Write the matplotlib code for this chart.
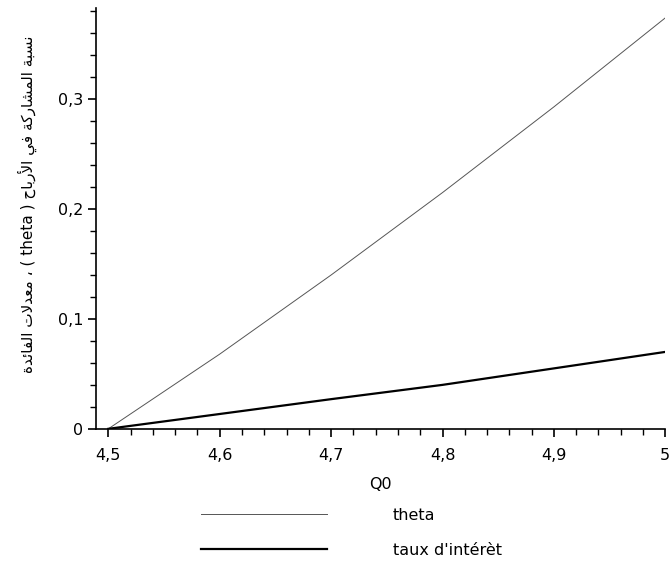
import matplotlib
matplotlib.use("Agg")
import matplotlib.pyplot as plt
from matplotlib.ticker import MultipleLocator, FuncFormatter

# data
q0 = [4.5, 4.6, 4.7, 4.8, 4.9, 5.0]
theta = [0.0, 0.068, 0.140, 0.215, 0.293, 0.374]
taux = [0.0, 0.0135, 0.027, 0.040, 0.055, 0.070]
series_labels = ["theta", "taux d'intérèt"]
ylabel_ar = "نسبة المشاركة في الأرباح ( theta ) ، معدلات الفائدة"

# arabic presentation forms: isolated, final, initial, medial
forms = {
    "ا": (0xFE8D, 0xFE8E, None, None),
    "أ": (0xFE83, 0xFE84, None, None),
    "ب": (0xFE8F, 0xFE90, 0xFE91, 0xFE92),
    "ة": (0xFE93, 0xFE94, None, None),
    "ت": (0xFE95, 0xFE96, 0xFE97, 0xFE98),
    "ح": (0xFEA1, 0xFEA2, 0xFEA3, 0xFEA4),
    "د": (0xFEA9, 0xFEAA, None, None),
    "ر": (0xFEAD, 0xFEAE, None, None),
    "س": (0xFEB1, 0xFEB2, 0xFEB3, 0xFEB4),
    "ش": (0xFEB5, 0xFEB6, 0xFEB7, 0xFEB8),
    "ع": (0xFEC9, 0xFECA, 0xFECB, 0xFECC),
    "ف": (0xFED1, 0xFED2, 0xFED3, 0xFED4),
    "ك": (0xFED9, 0xFEDA, 0xFEDB, 0xFEDC),
    "ل": (0xFEDD, 0xFEDE, 0xFEDF, 0xFEE0),
    "م": (0xFEE1, 0xFEE2, 0xFEE3, 0xFEE4),
    "ن": (0xFEE5, 0xFEE6, 0xFEE7, 0xFEE8),
    "ي": (0xFEF1, 0xFEF2, 0xFEF3, 0xFEF4),
    "ئ": (0xFE89, 0xFE8A, 0xFE8B, 0xFE8C),
}
lam_alef = {"ا": (0xFEFB, 0xFEFC), "أ": (0xFEF7, 0xFEF8)}


def shape_word(w):
    out = []
    i = 0
    prev_joins = False
    while i < len(w):
        c = w[i]
        if c not in forms:
            out.append(c)
            prev_joins = False
            i += 1
            continue
        if c == "ل" and i + 1 < len(w) and w[i + 1] in lam_alef:
            iso, fin = lam_alef[w[i + 1]]
            out.append(chr(fin if prev_joins else iso))
            prev_joins = False
            i += 2
            continue
        iso, fin, ini, med = forms[c]
        next_ok = ini is not None and i + 1 < len(w) and w[i + 1] in forms
        if prev_joins and next_ok:
            out.append(chr(med))
        elif next_ok:
            out.append(chr(ini))
        elif prev_joins:
            out.append(chr(fin))
        else:
            out.append(chr(iso))
        prev_joins = ini is not None
        i += 1
    return "".join(out)


def visual(s):
    mirror = {"(": ")", ")": "("}
    toks = []
    for t in reversed(s.split(" ")):
        if t in mirror:
            toks.append(mirror[t])
        elif any(ch in forms for ch in t):
            toks.append(shape_word(t)[::-1])
        else:
            toks.append(t)
    return " ".join(toks)


fs = 11.5
fig = plt.figure(figsize=(6.72, 5.71), dpi=100)
ax = fig.add_axes([0.143, 0.249, 0.847, 0.737])

ax.plot(q0, theta, color="#555555", lw=0.7, label=series_labels[0])
ax.plot(q0, taux, color="black", lw=1.6, label=series_labels[1])

ax.set_xlim(4.489, 5.0)
ax.set_ylim(0, 0.383)
for s in ["top", "right"]:
    ax.spines[s].set_visible(False)
ax.spines["left"].set_linewidth(1.2)
ax.spines["bottom"].set_linewidth(1.2)

ax.xaxis.set_major_locator(MultipleLocator(0.1))
ax.xaxis.set_minor_locator(MultipleLocator(0.02))
ax.yaxis.set_major_locator(MultipleLocator(0.1))
ax.yaxis.set_minor_locator(MultipleLocator(0.02))
comma = FuncFormatter(lambda v, p: ("%g" % round(v, 3)).replace(".", ","))
ax.xaxis.set_major_formatter(comma)
ax.yaxis.set_major_formatter(comma)
ax.tick_params(which="major", length=6, width=1.2, labelsize=fs, direction="out")
ax.tick_params(which="minor", length=4, width=1.0, direction="out")
ax.tick_params(axis="x", pad=8)
ax.tick_params(axis="y", pad=3)

ax.set_xlabel("Q0", fontsize=fs, labelpad=10)

fig.text(0.04, 0.643, visual(ylabel_ar), rotation=90, ha="center", va="center",
         fontsize=11, family="DejaVu Sans")

fig.legend(loc="upper left", bbox_to_anchor=(0.29, 0.122), frameon=False,
           fontsize=fs, handlelength=7.9, handletextpad=4.1, labelspacing=1.25,
           borderaxespad=0)

fig.savefig("out.png", dpi=100)
